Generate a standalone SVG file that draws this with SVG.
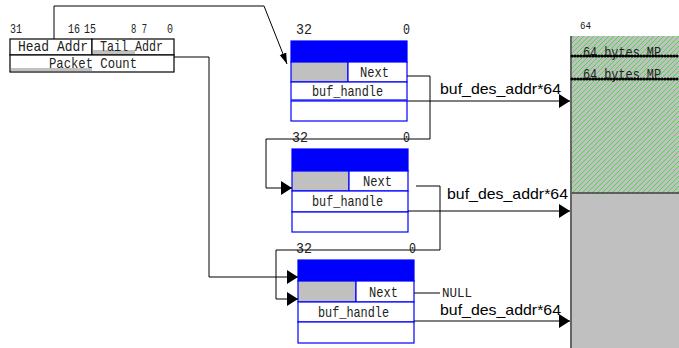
<svg xmlns="http://www.w3.org/2000/svg" width="679" height="348" viewBox="0 0 679 348">
  <defs>
    <marker id="arrow" markerUnits="userSpaceOnUse" markerWidth="12" markerHeight="14" refX="11" refY="7" orient="auto">
      <path d="M0,0 L11,7 L0,14 Z" fill="#000"/>
    </marker>
    <marker id="arrow-thin" markerUnits="userSpaceOnUse" markerWidth="12" markerHeight="8" refX="11" refY="4" orient="auto">
      <path d="M0,0.5 L11,4 L0,7.5 Z" fill="#000"/>
    </marker>
    <pattern id="hatch" patternUnits="userSpaceOnUse" width="5" height="5">
      <rect width="5" height="5" fill="#c0c0c0"/>
      <path d="M-1,6 L6,-1 M-1,1 L1,-1 M4,6 L6,4" stroke="#44dd44" stroke-width="1"/>
    </pattern>
    <style>
      .mono { font-family: "Liberation Mono", "DejaVu Sans Mono", monospace; fill: #222; }
      .sans { font-family: "Liberation Sans", Arial, sans-serif; fill: #000; font-size: 15px; }
      .cell { fill: #fff; stroke: #0000ff; stroke-width: 1.2; }
      .head { fill: #0000ff; stroke: #0000ff; stroke-width: 1.2; }
      .gray { fill: #c0c0c0; stroke: #0000ff; stroke-width: 1.2; }
      .reg { fill: #fff; stroke: #000; stroke-width: 1.2; }
      .wire { fill: none; stroke: #000; stroke-width: 1; }
    </style>
  </defs>

  <!-- memory area -->
  <g id="memory">
    <rect x="571" y="36" width="110" height="157" fill="url(#hatch)"/>
    <rect x="571" y="193" width="110" height="156" fill="#c0c0c0"/>
    <line x1="571" y1="193" x2="679" y2="193" stroke="#000" stroke-width="1"/>
    <line x1="571" y1="36" x2="571" y2="348" stroke="#666" stroke-width="2"/>
    <text class="mono" x="580" y="29" font-size="11" textLength="11" lengthAdjust="spacingAndGlyphs">64</text>
    <text class="mono" x="583" y="57" font-size="14" textLength="78" lengthAdjust="spacingAndGlyphs">64 bytes MP</text>
    <text class="mono" x="583" y="79" font-size="14" textLength="78" lengthAdjust="spacingAndGlyphs">64 bytes MP</text>
    <line x1="572" y1="56" x2="679" y2="56" stroke="#000" stroke-width="3.2" stroke-linecap="round" stroke-dasharray="0 3"/>
    <line x1="572" y1="79" x2="679" y2="79" stroke="#000" stroke-width="3.2" stroke-linecap="round" stroke-dasharray="0 3"/>
  </g>

  <!-- queue register -->
  <g id="register">
    <text class="mono" x="10" y="33" font-size="13" textLength="12" lengthAdjust="spacingAndGlyphs">31</text>
    <text class="mono" x="68" y="33" font-size="13" textLength="12" lengthAdjust="spacingAndGlyphs">16</text>
    <text class="mono" x="84" y="33" font-size="13" textLength="12" lengthAdjust="spacingAndGlyphs">15</text>
    <text class="mono" x="131" y="33" font-size="13" textLength="16" lengthAdjust="spacingAndGlyphs">8 7</text>
    <text class="mono" x="167" y="33" font-size="13" textLength="6" lengthAdjust="spacingAndGlyphs">0</text>
    <rect class="reg" x="10" y="39" width="82" height="16"/>
    <rect class="reg" x="92" y="39" width="82" height="16"/>
    <rect class="reg" x="10" y="55" width="164" height="17"/>
    <rect x="93" y="50" width="42" height="4" fill="#c0c0c0"/>
    <rect x="11" y="68" width="81" height="3" fill="#c0c0c0"/>
    <text class="mono" x="18" y="51" font-size="15" textLength="70" lengthAdjust="spacingAndGlyphs">Head Addr</text>
    <text class="mono" x="100" y="51" font-size="15" textLength="63" lengthAdjust="spacingAndGlyphs">Tail Addr</text>
    <text class="mono" x="49" y="68" font-size="15" textLength="88" lengthAdjust="spacingAndGlyphs">Packet Count</text>
  </g>

  <!-- descriptor 1 -->
  <g id="desc1">
    <text class="mono" x="296" y="34" font-size="15" textLength="16" lengthAdjust="spacingAndGlyphs">32</text>
    <text class="mono" x="403" y="34" font-size="15" textLength="7" lengthAdjust="spacingAndGlyphs">0</text>
    <rect class="head" x="291" y="41" width="116" height="21"/>
    <rect class="gray" x="291" y="62" width="57" height="20"/>
    <rect class="cell" x="348" y="62" width="59" height="20"/>
    <rect class="cell" x="291" y="82" width="116" height="18"/>
    <rect class="cell" x="291" y="101" width="116" height="20"/>
    <text class="mono" x="360" y="77" font-size="15" textLength="29" lengthAdjust="spacingAndGlyphs">Next</text>
    <text class="mono" x="312" y="96" font-size="15" textLength="71" lengthAdjust="spacingAndGlyphs">buf_handle</text>
  </g>

  <!-- descriptor 2 -->
  <g id="desc2">
    <text class="mono" x="292" y="142" font-size="15" textLength="16" lengthAdjust="spacingAndGlyphs">32</text>
    <text class="mono" x="403" y="142" font-size="15" textLength="7" lengthAdjust="spacingAndGlyphs">0</text>
    <rect class="head" x="292" y="149" width="116" height="22"/>
    <rect class="gray" x="292" y="171" width="57" height="20"/>
    <rect class="cell" x="349" y="171" width="59" height="20"/>
    <rect class="cell" x="292" y="191" width="116" height="21"/>
    <rect class="cell" x="292" y="212" width="116" height="20"/>
    <text class="mono" x="363" y="186" font-size="15" textLength="29" lengthAdjust="spacingAndGlyphs">Next</text>
    <text class="mono" x="312" y="206" font-size="15" textLength="71" lengthAdjust="spacingAndGlyphs">buf_handle</text>
  </g>

  <!-- descriptor 3 -->
  <g id="desc3">
    <text class="mono" x="296" y="253" font-size="15" textLength="16" lengthAdjust="spacingAndGlyphs">32</text>
    <text class="mono" x="409" y="253" font-size="15" textLength="7" lengthAdjust="spacingAndGlyphs">0</text>
    <rect class="head" x="298" y="260" width="116" height="21"/>
    <rect class="gray" x="298" y="281" width="58" height="21"/>
    <rect class="cell" x="356" y="281" width="58" height="21"/>
    <rect class="cell" x="298" y="302" width="116" height="20"/>
    <rect class="cell" x="298" y="322" width="116" height="21"/>
    <text class="mono" x="369" y="297" font-size="15" textLength="29" lengthAdjust="spacingAndGlyphs">Next</text>
    <text class="mono" x="318" y="317" font-size="15" textLength="71" lengthAdjust="spacingAndGlyphs">buf_handle</text>
  </g>

  <!-- connectors -->
  <g id="connectors">
    <path class="wire" d="M54,39 V6 H264 L287,64" marker-end="url(#arrow-thin)"/>
    <path class="wire" d="M174,57 H209 V277 H298" marker-end="url(#arrow)"/>
    <path class="wire" d="M407,76 H430 V139 H266 V188 H292" marker-end="url(#arrow)"/>
    <path class="wire" d="M416,186 H440 V250 H276 V299 H298" marker-end="url(#arrow)"/>
    <path class="wire" d="M414,293 H440"/>
    <text class="mono" x="442" y="297" font-size="12" textLength="30" lengthAdjust="spacingAndGlyphs">NULL</text>
    <path class="wire" d="M407,101 H570" marker-end="url(#arrow)"/>
    <path class="wire" d="M408,211 H570" marker-end="url(#arrow)"/>
    <path class="wire" d="M414,321 H570" marker-end="url(#arrow)"/>
    <text class="sans" x="440" y="94" textLength="121" lengthAdjust="spacingAndGlyphs">buf_des_addr*64</text>
    <text class="sans" x="447" y="199" textLength="121" lengthAdjust="spacingAndGlyphs">buf_des_addr*64</text>
    <text class="sans" x="440" y="315" textLength="121" lengthAdjust="spacingAndGlyphs">buf_des_addr*64</text>
  </g>
</svg>
